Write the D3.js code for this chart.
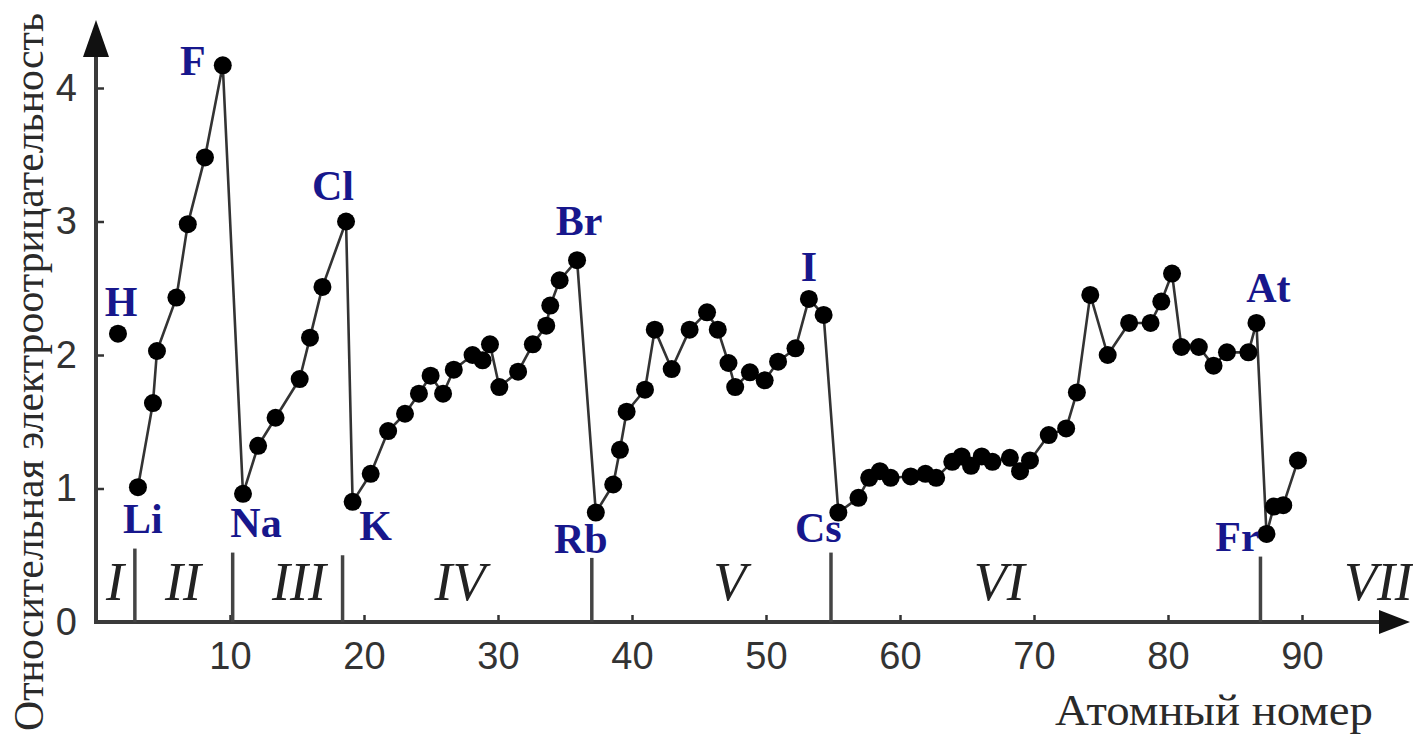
<!DOCTYPE html>
<html>
<head>
<meta charset="utf-8">
<script src="https://cdn.jsdelivr.net/npm/d3@7"></script>
<style>
  html, body { margin: 0; padding: 0; background: #fff; }
  svg { display: block; }
  .tick text { font-family: "Liberation Sans", Arial, sans-serif; font-size: 38px; fill: #333; }
  .tick line { stroke: #333; stroke-width: 2.5; }
  .elem { font-family: "Liberation Serif", "Times New Roman", serif; font-weight: bold; font-size: 42px; fill: #17178c; }
  .period { font-family: "Liberation Serif", "Times New Roman", serif; font-style: italic; font-size: 54px; fill: #222; }
  .title { font-family: "Liberation Serif", "Times New Roman", serif; fill: #2a2a2a; }
</style>
</head>
<body>
<div id="vis"></div>
<script>
// Hydrogen stands apart, not joined to the rest of the curve
const hX = [1.64];
const hY = [2.16];

// Li ... Th, as drawn on the atomic number axis (noble gases left out)
const posX = [
  3.13, 4.25, 4.55, 6.0, 6.85, 8.13, 9.46,
  10.97, 12.1, 13.4, 15.2, 15.97, 16.9, 18.66,
  19.15, 20.5, 21.8, 23.06, 24.1, 24.97, 25.9, 26.7, 28.1, 28.85, 29.4, 30.1, 31.5, 32.6, 33.6, 33.9, 34.6, 35.9,
  37.3, 38.6, 39.1, 39.6, 40.97, 41.7, 42.96, 44.3, 45.6, 46.4, 47.2, 47.7, 48.8, 49.9, 50.9, 52.2, 53.2, 54.3,
  55.4, 56.9, 57.7, 58.5, 59.3, 60.8, 61.9, 62.7, 63.9, 64.6, 65.3, 66.1, 66.9, 68.2, 68.96, 69.7, 71.1, 72.4, 73.2,
  74.2, 75.5, 77.1, 78.7, 79.5, 80.3, 81.0, 82.3, 83.4, 84.4, 86.0, 86.6,
  87.35, 87.9, 88.6, 89.7
];
const eneg = [
  1.01, 1.64, 2.03, 2.43, 2.98, 3.48, 4.17,
  0.96, 1.32, 1.53, 1.82, 2.13, 2.51, 3.0,
  0.90, 1.11, 1.43, 1.56, 1.71, 1.845, 1.71, 1.89, 2.0, 1.96, 2.08, 1.76, 1.875, 2.08, 2.22, 2.37, 2.56, 2.71,
  0.82, 1.03, 1.29, 1.575, 1.74, 2.19, 1.895, 2.19, 2.32, 2.19, 1.94, 1.76, 1.87, 1.81, 1.95, 2.05, 2.42, 2.30,
  0.82, 0.93, 1.08, 1.13, 1.08, 1.09, 1.11, 1.08, 1.20, 1.24, 1.17, 1.24, 1.20, 1.23, 1.13, 1.21, 1.40, 1.45, 1.72,
  2.45, 2.00, 2.24, 2.24, 2.40, 2.61, 2.06, 2.06, 1.92, 2.02, 2.02, 2.24,
  0.66, 0.865, 0.875, 1.21
];

// labelled elements: symbol and index of its point (-1 = hydrogen)
const labelNames = ["H", "Li", "F", "Na", "Cl", "K", "Br", "Rb", "I", "Cs", "At", "Fr"];
const labelIndex = [-1, 0, 6, 7, 13, 14, 31, 32, 48, 50, 80, 81];

// period borders and numerals
const periodBounds = [2.9, 10.2, 18.4, 37.0, 54.85, 86.9];
const boundTops = [0.55, 0.52, 0.50, 0.48, 0.52, 0.49];
const periodNames = ["I", "II", "III", "IV", "V", "VI", "VII"];
const periodX = [1.42, 6.5, 15.15, 27.16, 47.3, 67.4, 95.7];

const xTicks = [10, 20, 30, 40, 50, 60, 70, 80, 90];
const yTicks = [0, 1, 2, 3, 4];

// label offsets in px from their point (layout only)
const labelOffsets = {
  H: [3, -18], Li: [5, 46], F: [-30, 10], Na: [13, 43], Cl: [-13, -22], K: [23, 38],
  Br: [2, -25], Rb: [-15, 40], I: [0, -18], Cs: [-20, 29], At: [12, -21], Fr: [-29, 17]
};

const W = 1413, H = 737;
const x0 = 96, y0 = 622;

const svg = d3.select('#vis').append('svg')
  .attr('width', W).attr('height', H)
  .attr('viewBox', `0 0 ${W} ${H}`);

const x = d3.scaleLinear().domain([0, 97]).range([x0, x0 + 97 * 13.4]);
const y = d3.scaleLinear().domain([0, 4.5]).range([y0, y0 - 4.5 * 133.5]);

// axes with inward ticks
svg.append('g')
  .attr('transform', `translate(0,${y0})`)
  .call(d3.axisBottom(x).tickValues(xTicks).tickFormat(d3.format('d')).tickSize(-7).tickPadding(20))
  .call(g => g.select('.domain').remove());

svg.append('g')
  .attr('transform', `translate(${x0},0)`)
  .call(d3.axisLeft(y).tickValues(yTicks).tickFormat(d3.format('d')).tickSize(-8).tickPadding(19))
  .call(g => g.select('.domain').remove());

// axis lines with arrows
const axisColor = '#3a3a3a';
svg.append('line').attr('x1', x0).attr('y1', y0 + 2).attr('x2', x0).attr('y2', 50)
  .attr('stroke', axisColor).attr('stroke-width', 4);
svg.append('line').attr('x1', x0 - 2).attr('y1', y0).attr('x2', 1385).attr('y2', y0)
  .attr('stroke', axisColor).attr('stroke-width', 4);
svg.append('path').attr('d', `M${x0},20 L${x0 + 13},57 L${x0 - 13},57 Z`).attr('fill', '#111');
svg.append('path').attr('d', `M1410,${y0} L1379,${y0 - 12} L1379,${y0 + 12} Z`).attr('fill', '#111');

// period separators
svg.selectAll('.bound').data(periodBounds).enter().append('line')
  .attr('class', 'bound')
  .attr('x1', d => x(d)).attr('x2', d => x(d))
  .attr('y1', y0).attr('y2', (d, i) => y(boundTops[i]))
  .attr('stroke', '#444').attr('stroke-width', 3.5);

svg.selectAll('.period').data(periodNames).enter().append('text')
  .attr('class', 'period')
  .attr('x', (d, i) => x(periodX[i]))
  .attr('y', 600)
  .attr('text-anchor', 'middle')
  .text(d => d);

// curve
const pts = posX.map((v, i) => [v, eneg[i]]);
const line = d3.line().x(d => x(d[0])).y(d => y(d[1]));
svg.append('path').datum(pts)
  .attr('d', line)
  .attr('fill', 'none')
  .attr('stroke', '#333')
  .attr('stroke-width', 2.6)
  .attr('stroke-linejoin', 'round');

const hPts = hX.map((v, i) => [v, hY[i]]);
svg.selectAll('.dot').data(pts.concat(hPts)).enter().append('circle')
  .attr('class', 'dot')
  .attr('cx', d => x(d[0]))
  .attr('cy', d => y(d[1]))
  .attr('r', 9)
  .attr('fill', '#000');

// element labels
svg.selectAll('.elem').data(labelNames).enter().append('text')
  .attr('class', 'elem')
  .attr('text-anchor', 'middle')
  .attr('x', (d, i) => {
    const p = labelIndex[i] < 0 ? hPts[0] : pts[labelIndex[i]];
    return x(p[0]) + labelOffsets[d][0];
  })
  .attr('y', (d, i) => {
    const p = labelIndex[i] < 0 ? hPts[0] : pts[labelIndex[i]];
    return y(p[1]) + labelOffsets[d][1];
  })
  .text(d => d);

// titles
svg.append('text')
  .attr('class', 'title')
  .attr('x', 1055).attr('y', 725)
  .attr('font-size', 44)
  .attr('textLength', 318).attr('lengthAdjust', 'spacingAndGlyphs')
  .text('Атомный номер');

svg.append('text')
  .attr('class', 'title')
  .attr('transform', 'translate(43,372) rotate(-90)')
  .attr('text-anchor', 'middle')
  .attr('font-size', 42)
  .attr('textLength', 718).attr('lengthAdjust', 'spacingAndGlyphs')
  .text('Относительная электроотрицательность');
</script>
</body>
</html>
